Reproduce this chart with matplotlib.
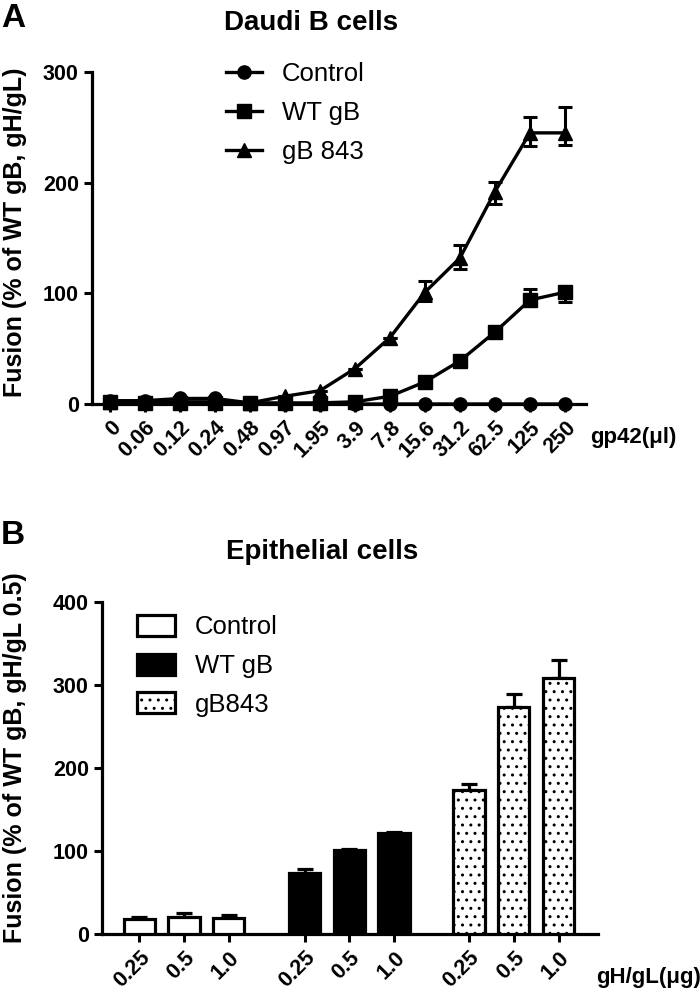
import matplotlib
matplotlib.use('Agg')
import matplotlib.pyplot as plt
from matplotlib.patches import Patch
from matplotlib.lines import Line2D

plt.rcParams['font.family'] = ['Liberation Sans', 'DejaVu Sans']
plt.rcParams['hatch.linewidth'] = 1.0

# Panel A data
gp42 = ['0', '0.06', '0.12', '0.24', '0.48', '0.97', '1.95', '3.9', '7.8',
        '15.6', '31.2', '62.5', '125', '250']
control_a = [3, 3, 5, 5, 1, 0, 0, 0, 0, 0, 0, 0, 0, 0]
wt_a = [2, 1, 1, 1, 1, 1, 1, 2, 7, 20, 39, 65, 94, 101]
wt_a_lo = [0, 0, 0, 0, 0, 0, 0, 0, 0, 2, 2, 3, 4, 9]
wt_a_hi = [0, 0, 0, 0, 0, 0, 0, 0, 0, 2, 2, 3, 10, 4]
gb843_a = [2, 2, 2, 2, 1, 7, 12, 32, 60, 101, 132, 192, 245, 245]
gb843_a_lo = [0, 0, 0, 0, 0, 0, 0, 0, 0, 8, 10, 11, 12, 11]
gb843_a_hi = [0, 0, 0, 0, 0, 0, 0, 0, 0, 10, 12, 9, 14, 23]

# Panel B data
ghgl = ['0.25', '0.5', '1.0']
groups = ['Control', 'WT gB', 'gB843']
means_b = [[18, 21, 19], [74, 101, 122], [173, 274, 308]]
errs_b = [[3, 4, 4], [4, 1, 1], [8, 15, 22]]

TICK_FS = 15.5
LEG_FS = 18.5
LAB_FS = 18

fig = plt.figure(figsize=(7, 10.01), dpi=100)


def style_axes(ax):
    for s in ['top', 'right']:
        ax.spines[s].set_visible(False)
    for s in ['left', 'bottom']:
        ax.spines[s].set_linewidth(2.3)
    ax.tick_params(direction='out', length=6, width=2.2, labelsize=TICK_FS)
    for lab in ax.get_yticklabels() + ax.get_xticklabels():
        lab.set_fontweight('bold')


# ---- Panel A ----
axA = fig.add_axes([92 / 700, 1 - 404 / 1001, 494 / 700, 332 / 1001])
x = list(range(len(gp42)))
axA.plot(x, control_a, color='k', lw=2.4, marker='o', ms=9.5, clip_on=False, zorder=3)
axA.errorbar(x, wt_a, yerr=[wt_a_lo, wt_a_hi], color='k', lw=2.4, marker='s', ms=9.5,
             capsize=5, capthick=2.2, elinewidth=2.2, clip_on=False, zorder=4)
axA.errorbar(x, gb843_a, yerr=[gb843_a_lo, gb843_a_hi], color='k', lw=2.4, marker='^',
             ms=10, capsize=5, capthick=2.2, elinewidth=2.2, clip_on=False, zorder=5)
axA.set_xlim(-0.51, 13.6)
axA.set_ylim(0, 300)
axA.set_yticks([0, 100, 200, 300])
axA.set_xticks(x)
axA.set_xticklabels(gp42, rotation=45, ha='right', rotation_mode='anchor')
style_axes(axA)

handles_a = [Line2D([0], [0], color='k', lw=2.4, marker=m, ms=9.5) for m in ['o', 's', '^']]
axA.legend(handles_a, ['Control', 'WT gB', 'gB 843'], loc='upper left',
           bbox_to_anchor=(0.245, 1.07), frameon=False, fontsize=LEG_FS,
           borderpad=0, handlelength=1.4, handletextpad=0.78, labelspacing=0.6)

# ---- Panel B ----
axB = fig.add_axes([102 / 700, 1 - 934 / 1001, 496 / 700, 332 / 1001])
offsets = [0, 3.69, 7.36]
fills = ['white', 'black', 'white']
hatches = [None, None, '..']
pos_all = []
for g in range(3):
    pos = [offsets[g] + i for i in range(3)]
    pos_all += pos
    axB.bar(pos, means_b[g], width=0.7, color=fills[g], edgecolor='k', linewidth=2.3,
            hatch=hatches[g], zorder=3)
    axB.errorbar(pos, means_b[g], yerr=[[0, 0, 0], errs_b[g]], fmt='none', ecolor='k',
                 elinewidth=2.3, capsize=6, capthick=2.3, zorder=2)
axB.set_xlim(-0.83, 10.24)
axB.set_ylim(0, 400)
axB.set_yticks([0, 100, 200, 300, 400])
axB.set_xticks(pos_all)
axB.set_xticklabels(ghgl * 3, rotation=45, ha='right', rotation_mode='anchor')
style_axes(axB)

handles_b = [Patch(facecolor=fills[g], edgecolor='k', linewidth=2.3, hatch=hatches[g])
             for g in range(3)]
axB.legend(handles_b, groups, loc='upper left', bbox_to_anchor=(0.045, 1.0),
           frameon=False, fontsize=LEG_FS, borderpad=0, handlelength=1.48,
           handleheight=0.9, handletextpad=0.78, labelspacing=0.55)

# ---- Text ----
fig.text(13 / 700, 1 - 18 / 1001, 'A', fontsize=24, fontweight='bold', ha='center', va='center')
fig.text(13 / 700, 1 - 536 / 1001, 'B', fontsize=24, fontweight='bold', ha='center', va='center')
fig.text(311 / 700, 1 - 23 / 1001, 'Daudi B cells', fontsize=20, fontweight='bold',
         ha='center', va='center')
fig.text(322 / 700, 1 - 552 / 1001, 'Epithelial cells', fontsize=20, fontweight='bold',
         ha='center', va='center')
fig.text(15 / 700, 1 - 232 / 1001, 'Fusion (% of WT gB, gH/gL)', fontsize=LAB_FS,
         fontweight='bold', rotation=90, ha='center', va='center')
fig.text(15 / 700, 1 - 758 / 1001, 'Fusion (% of WT gB, gH/gL 0.5)', fontsize=LAB_FS,
         fontweight='bold', rotation=90, ha='center', va='center')
fig.text(590 / 700, 1 - 437 / 1001, 'gp42(μl)', fontsize=16, fontweight='bold',
         ha='left', va='center')
fig.text(596 / 700, 1 - 977 / 1001, 'gH/gL(μg)', fontsize=16, fontweight='bold',
         ha='left', va='center')

fig.savefig('out.png', dpi=100)
